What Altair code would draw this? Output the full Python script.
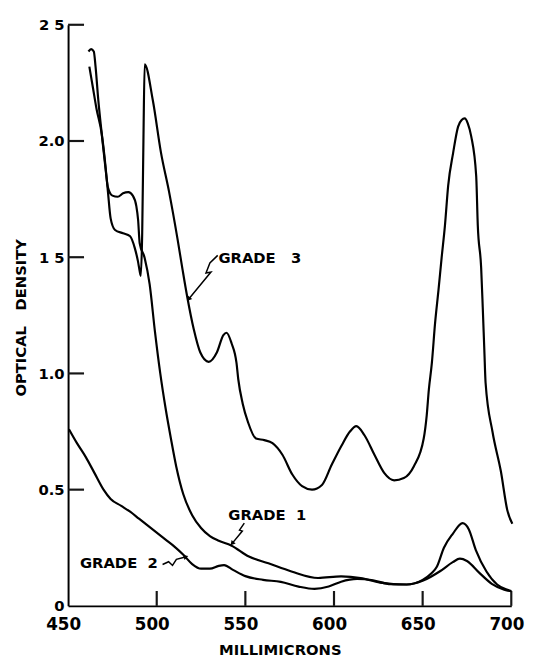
import altair as alt
import pandas as pd

# ---- curve data (wavelength in millimicrons, optical density) ----
g1_nm = [461.5, 463, 464.5, 465.5, 467, 469, 471, 472.5, 475, 478, 481, 484, 486.5, 488.5, 489.5, 490.4,
         493.2, 496, 499, 502, 505, 508, 511, 515, 520, 525, 530, 535, 542, 552, 563, 576, 591, 604, 615,
         626, 641, 650, 655, 658, 662, 667, 672.5, 676, 680, 686, 692, 697, 700]
g1_od = [2.385, 2.395, 2.385, 2.32, 2.18, 2.03, 1.89, 1.8, 1.765, 1.76, 1.775, 1.78, 1.765, 1.72, 1.66, 1.56,
         1.497, 1.384, 1.18, 1.0, 0.85, 0.72, 0.6, 0.48, 0.39, 0.335, 0.3, 0.28, 0.26, 0.212, 0.183, 0.148, 0.12,
         0.127, 0.12, 0.1, 0.092, 0.112, 0.14, 0.168, 0.25, 0.31, 0.356, 0.33, 0.24, 0.148, 0.092, 0.071, 0.064]

g2_nm = [450.5, 455, 460, 465, 470, 474, 480, 485, 490, 495, 500, 505, 510, 515, 520, 525, 530, 535, 538,
         543, 550, 560, 570, 580, 589, 597, 604, 613, 622, 632, 641, 650, 660, 667, 671, 675, 682, 689, 696, 700]
g2_od = [0.76, 0.70, 0.64, 0.57, 0.50, 0.46, 0.43, 0.405, 0.375, 0.345, 0.315, 0.285, 0.255, 0.22, 0.18, 0.16,
         0.16, 0.172, 0.175, 0.155, 0.128, 0.112, 0.103, 0.083, 0.073, 0.083, 0.104, 0.116, 0.11, 0.093, 0.092,
         0.108, 0.15, 0.188, 0.203, 0.193, 0.142, 0.095, 0.07, 0.063]

g3_nm = [462, 464, 466, 469, 471, 472.5, 474, 476.5, 481, 485, 487.6, 489.4, 490.4, 491, 491.8, 492.5, 493.2,
         497.8, 502.4, 507, 511.7, 514.5, 517.2, 520.9, 524.6, 529.3, 533.9, 537.6, 539.4, 542.2, 545, 546,
         548.5, 551.5, 556, 560.7, 565.3, 570.9, 576.5, 582, 587.6, 593.2, 598.7, 604.3, 609, 612.6, 617.2,
         622.8, 628.3, 633.9, 639.4, 645, 650.6, 652.3, 653.5, 655.2, 657, 658.9, 660.7, 662.6, 664.4, 667.2,
         670, 672, 673.7, 675.5, 677.4, 680.2, 681.1, 683, 683.9, 684.8, 685.5, 689.4, 694.1, 697.8, 700.6]
g3_od = [2.32, 2.23, 2.14, 2.03, 1.9, 1.78, 1.667, 1.617, 1.603, 1.59, 1.54, 1.483, 1.44, 1.42, 1.6, 2.0, 2.33,
         2.175, 1.95, 1.78, 1.58, 1.45, 1.33, 1.19, 1.09, 1.05, 1.09, 1.165, 1.175, 1.13, 1.045, 0.975,
         0.87, 0.79, 0.72, 0.713, 0.70, 0.65, 0.565, 0.515, 0.50, 0.52, 0.607, 0.69, 0.75, 0.773, 0.734,
         0.65, 0.572, 0.54, 0.55, 0.60, 0.72, 0.82, 0.93, 1.045, 1.215, 1.356, 1.497, 1.638, 1.808, 1.949,
         2.062, 2.09, 2.097, 2.075, 2.02, 1.85, 1.638, 1.455, 1.285, 1.10, 0.96, 0.749, 0.58, 0.41, 0.353]

x_ticks = [450, 500, 550, 600, 650, 700]
y_ticks = [0, 0.5, 1.0, 1.5, 2.0, 2.5]

# inward tick lengths, in data units
y_tick_len_nm = 9.0
x_tick_len_od = 0.064

# ---- annotations (data units) ----
label_text = ["GRADE\u00a0\u00a0\u00a03", "GRADE\u00a0\u00a01", "GRADE\u00a0\u00a02"]
label_nm = [534.8, 540.4, 456.7]
label_od = [1.497, 0.392, 0.186]

lead3_nm = [534.4, 530.0, 527.8, 530.6, 518.3]
lead3_od = [1.508, 1.475, 1.432, 1.436, 1.322]
lead1_nm = [549.4, 546.7, 548.3, 542.8]
lead1_od = [0.356, 0.326, 0.322, 0.271]
lead2_nm = [503.3, 506.7, 508.9, 511.1, 516.1]
lead2_od = [0.178, 0.19, 0.174, 0.2, 0.21]
arrow_nm = [518.3, 542.8, 516.1]
arrow_od = [1.322, 0.271, 0.21]
arrow_ang = [219, 220, 72]

rows = []
for g, xs, ys in (("Grade 1", g1_nm, g1_od), ("Grade 2", g2_nm, g2_od), ("Grade 3", g3_nm, g3_od)):
    for i, (a, b) in enumerate(zip(xs, ys)):
        rows.append({"grade": g, "i": i, "nm": a, "od": b})
curves = pd.DataFrame(rows)

segs = []
k = 0
for xs, ys in ((lead3_nm, lead3_od), (lead1_nm, lead1_od), (lead2_nm, lead2_od)):
    for i, (a, b) in enumerate(zip(xs, ys)):
        segs.append({"k": k, "i": i, "nm": float(a), "od": float(b)})
    k += 1
leaders = pd.DataFrame(segs)

tick_rows = []
k = 0
for v in y_ticks[1:]:
    tick_rows.append({"k": k, "i": 0, "nm": 450.0, "od": float(v)})
    tick_rows.append({"k": k, "i": 1, "nm": 450.0 + y_tick_len_nm, "od": float(v)})
    k += 1
for v in x_ticks[1:]:
    tick_rows.append({"k": k, "i": 0, "nm": float(v), "od": 0.0})
    tick_rows.append({"k": k, "i": 1, "nm": float(v), "od": x_tick_len_od})
    k += 1
ticks = pd.DataFrame(tick_rows)

labels = pd.DataFrame({"t": label_text, "nm": label_nm, "od": label_od})
arrows = pd.DataFrame({"nm": arrow_nm, "od": arrow_od, "ang": arrow_ang})

FONT = "DejaVu Sans"
INK = "#161616"
xs_ = alt.Scale(domain=[450, 700], nice=False, zero=False)
ys_ = alt.Scale(domain=[0, 2.5], nice=False)

y_label_expr = "datum.value == 0 ? '0' : datum.value == 2.5 ? '2 5' : datum.value == 1.5 ? '1 5' : format(datum.value, '.1f')"

x_axis = alt.Axis(
    values=x_ticks, tickSize=0, grid=False, domainColor="black", domainWidth=2,
    labelFont=FONT, labelFontWeight="bold", labelFontSize=17, labelColor="black",
    labelPadding=11, labelOffset=-5, labelFlush=False,
    title="MILLIMICRONS", titleFont=FONT, titleFontWeight="bold", titleFontSize=15,
    titleColor="black", titleX=215, titleY=44, titleAlign="center", titleBaseline="middle")
y_axis = alt.Axis(
    values=y_ticks, tickSize=0, grid=False, domainColor="black", domainWidth=2,
    labelExpr=y_label_expr, labelFlush=False,
    labelFont=FONT, labelFontWeight="bold", labelFontSize=15, labelColor="black",
    labelPadding=4,
    title="OPTICAL\u00a0\u00a0\u00a0DENSITY", titleFont=FONT, titleFontWeight="bold", titleFontSize=15,
    titleColor="black", titleX=-48, titleY=297, titleAngle=270, titleAlign="center",
    titleBaseline="middle")

tk = alt.Chart(ticks).mark_line(stroke=INK, color=INK, strokeWidth=2.2, opacity=1).encode(
    x=alt.X("nm:Q", scale=xs_, axis=x_axis), y=alt.Y("od:Q", scale=ys_, axis=y_axis),
    detail="k:N", order="i:Q")

lines = alt.Chart(curves).mark_line(color="black", strokeWidth=2.2, interpolate="monotone").encode(
    x=alt.X("nm:Q", scale=xs_), y=alt.Y("od:Q", scale=ys_), detail="grade:N", order="i:Q")

lead = alt.Chart(leaders).mark_line(color="black", strokeWidth=1.5).encode(
    x=alt.X("nm:Q", scale=xs_), y=alt.Y("od:Q", scale=ys_), detail="k:N", order="i:Q")

arr = alt.Chart(arrows).mark_point(shape="triangle", filled=True, color="black", size=30, opacity=1).encode(
    x=alt.X("nm:Q", scale=xs_), y=alt.Y("od:Q", scale=ys_), angle=alt.Angle("ang:Q", scale=None))

txt = alt.Chart(labels).mark_text(font=FONT, fontWeight="bold", fontSize=15, color="black",
                                  align="left", baseline="middle").encode(
    x=alt.X("nm:Q", scale=xs_), y=alt.Y("od:Q", scale=ys_), text="t:N")

chart = alt.layer(tk, lines, lead, arr, txt).properties(
    width=450, height=590,
    autosize=alt.AutoSizeParams(type="none"),
    padding={"left": 61, "top": 12, "right": 19, "bottom": 55},
    background="white",
).configure_view(stroke=None)

chart.save("out.html", embed_options={"renderer": "svg", "actions": False})
